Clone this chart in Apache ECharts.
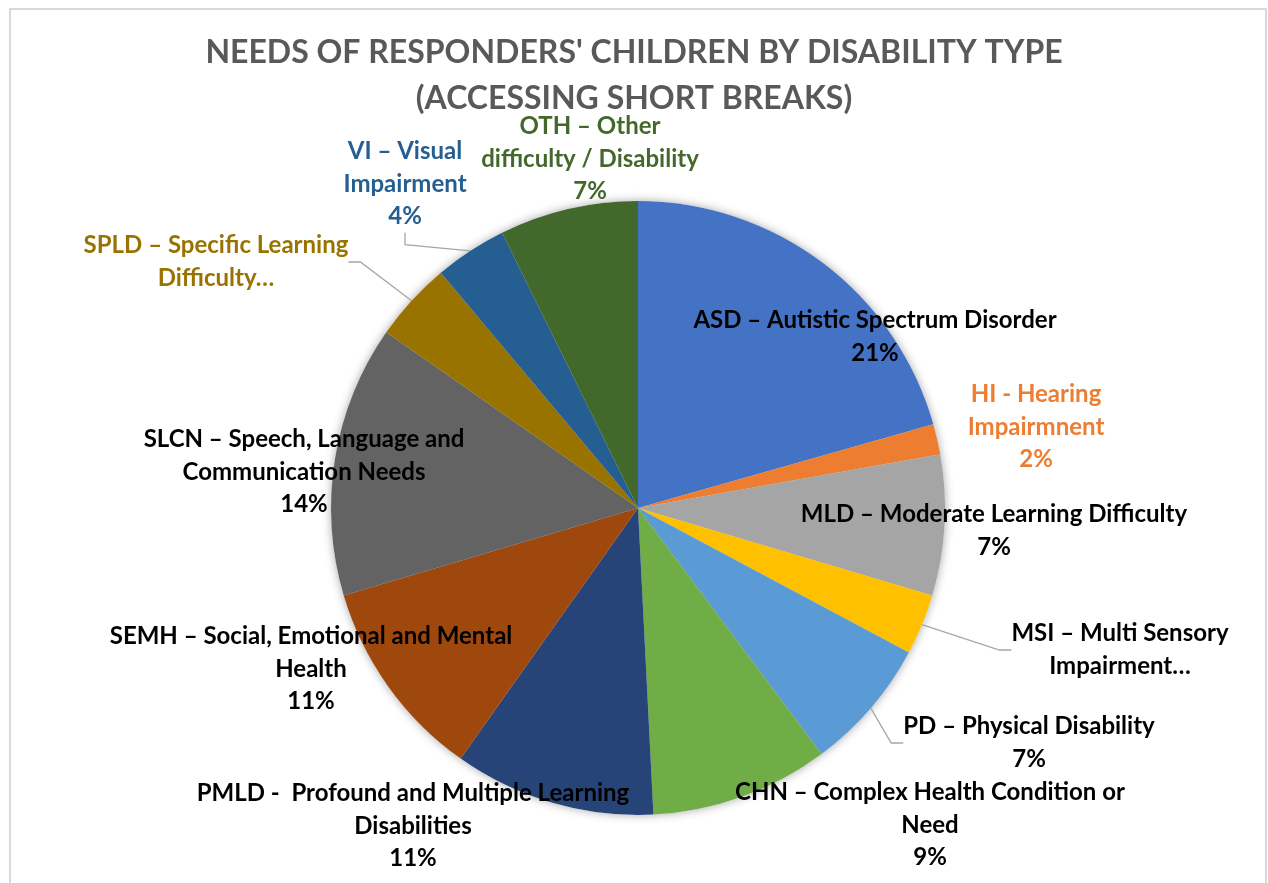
<!DOCTYPE html>
<html>
<head>
<meta charset="utf-8">
<script src="https://cdn.jsdelivr.net/npm/echarts@6/dist/echarts.min.js"></script>
<style>
html,body{margin:0;padding:0;background:#fff;overflow:hidden;}
#frame{position:absolute;left:9px;top:8px;width:1258px;height:900px;border:2px solid #D9D9D9;box-sizing:border-box;z-index:5;pointer-events:none;}
#chart{position:absolute;left:0;top:0;width:1268px;height:883px;}
</style>
</head>
<body>
<div id="chart"></div>
<div id="frame"></div>
<script>
// ---- data ----
const titleLines = ["NEEDS OF RESPONDERS' CHILDREN BY DISABILITY TYPE", "(ACCESSING SHORT BREAKS)"];
const categories = [
  "ASD – Autistic Spectrum Disorder",
  "HI - Hearing Impairmnent",
  "MLD – Moderate Learning Difficulty",
  "MSI – Multi Sensory Impairment",
  "PD – Physical Disability",
  "CHN – Complex Health Condition or Need",
  "PMLD -  Profound and Multiple Learning Disabilities",
  "SEMH – Social, Emotional and Mental Health",
  "SLCN – Speech, Language and Communication Needs",
  "SPLD – Specific Learning Difficulty",
  "VI – Visual Impairment",
  "OTH – Other difficulty / Disability"
];
const values = [20.6, 1.6, 7.4, 3.2, 7.0, 9.4, 10.6, 10.6, 14.3, 4.2, 3.8, 7.3];
// label text as shown on the chart (Excel wraps / truncates these)
const labelText = [
  "ASD – Autistic Spectrum Disorder",
  "HI - Hearing\nImpairmnent",
  "MLD – Moderate Learning Difficulty",
  "MSI – Multi Sensory\nImpairment…",
  "PD – Physical Disability",
  "CHN – Complex Health Condition or\nNeed",
  "PMLD -  Profound and Multiple Learning\nDisabilities",
  "SEMH – Social, Emotional and Mental\nHealth",
  "SLCN – Speech, Language and\nCommunication Needs",
  "SPLD – Specific Learning\nDifficulty…",
  "VI – Visual\nImpairment",
  "OTH – Other\ndifficulty / Disability"
];
const showPercent = [true, true, true, false, true, true, true, true, true, false, true, true];

// ---- styles / layout ----
const sliceColors = ['#4472C4','#ED7D31','#A5A5A5','#FFC000','#5B9BD5','#70AD47','#264478','#9E480E','#636363','#997300','#255E91','#43682B'];
const labelColors = ['#000','#ED7D31','#000','#000','#000','#000','#000','#000','#000','#997300','#255E91','#43682B'];
const showLine = [false,false,false,true,true,false,false,false,false,true,true,false];
// label block centres (px) in the 1268x883 canvas
const labelCentre = [
  [875, 337], [1036, 427], [994, 531], [1120, 650], [1029, 743], [930, 825],
  [413, 826], [311, 669], [304, 472], [216, 262], [405, 184], [590, 159]
];

const FONT = 'Lato';
const chart = echarts.init(document.getElementById('chart'), null, {renderer: 'canvas'});

const data = categories.map((c, i) => ({
  name: c,
  value: values[i],
  itemStyle: {color: sliceColors[i]},
  label: {color: labelColors[i]},
  labelLine: {show: showLine[i]}
}));

const option = {
  backgroundColor: '#fff',
  animation: false,
  title: {
    text: titleLines.join('\n'),
    left: 'center',
    top: 25,
    textStyle: {fontFamily: FONT, fontWeight: 'bold', fontSize: 32, color: '#595959', lineHeight: 46}
  },
  series: [
    {
      type: 'pie',
      silent: true,
      center: [638, 508],
      radius: [0, 307],
      startAngle: 90,
      clockwise: true,
      z: 1,
      label: {show: false},
      labelLine: {show: false},
      itemStyle: {color: '#fff', shadowBlur: 10, shadowColor: 'rgba(0,0,0,0.35)'},
      data: values.map((v, i) => ({name: categories[i], value: v}))
    },
    {
      type: 'pie',
      center: [638, 508],
      radius: [0, 307],
      startAngle: 90,
      clockwise: true,
      z: 2,
      avoidLabelOverlap: false,
      itemStyle: {borderWidth: 0},
      label: {
        show: true,
        position: 'outside',
        fontFamily: FONT,
        fontWeight: 'bold',
        fontSize: 24,
        lineHeight: 32.5,
        align: 'center',
        formatter: p => labelText[p.dataIndex] + (showPercent[p.dataIndex] ? '\n' + Math.round(p.percent) + '%' : '')
      },
      labelLine: {
        length: 20, length2: 12,
        lineStyle: {color: '#A6A6A6', width: 1.3}
      },
      labelLayout: function (p) {
        const c = labelCentre[p.dataIndex];
        return {x: c[0], y: c[1], align: 'center', verticalAlign: 'middle', hideOverlap: false};
      },
      data: data
    }
  ]
};
chart.setOption(option);
</script>
</body>
</html>
